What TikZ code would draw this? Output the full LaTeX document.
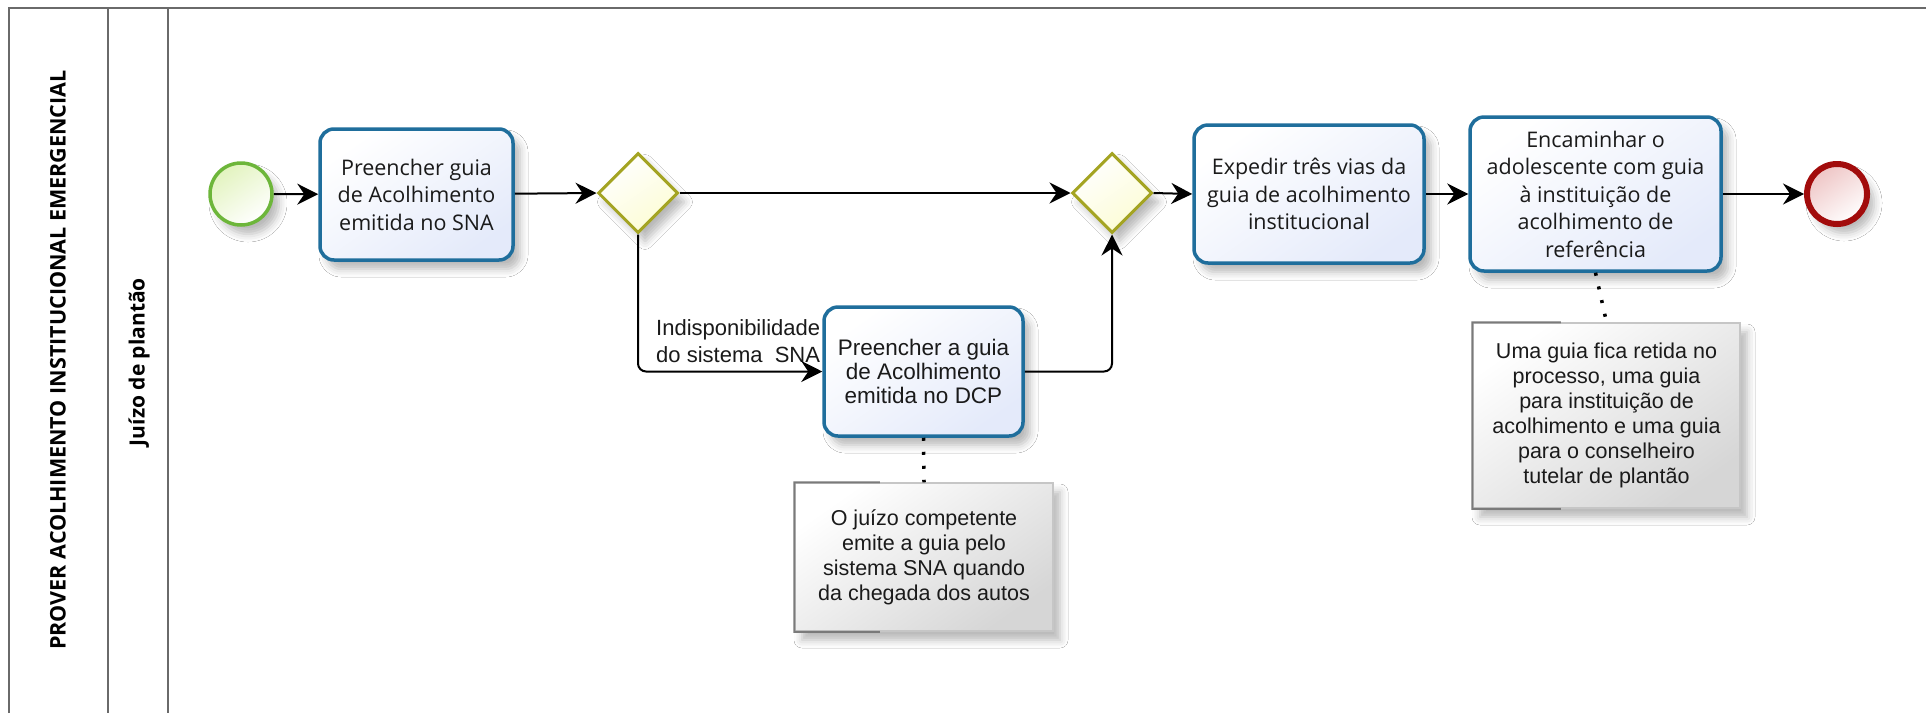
\documentclass[tikz,border=0pt]{standalone}
\usepackage{fontspec}
\setmainfont{Open Sans}
\newfontfamily\tah{Open Sans}
\newfontfamily\ari{Liberation Sans}
\usetikzlibrary{shapes.geometric,arrows.meta,shadows.blur,calc}
\definecolor{taskblue}{HTML}{1F6E9C}
\definecolor{taskfill}{HTML}{E4EAFA}
\definecolor{gwline}{HTML}{A4A422}
\definecolor{gwfill}{HTML}{FCFCD4}
\definecolor{stline}{HTML}{6DB63A}
\definecolor{stfill}{HTML}{E2F3BE}
\definecolor{enline}{HTML}{A20C0C}
\definecolor{enfill}{HTML}{EEC4C4}
\definecolor{framec}{HTML}{6A6A6A}
\definecolor{anfill}{HTML}{D6D6D6}
\definecolor{anline}{HTML}{C6C6C6}
\definecolor{anbrk}{HTML}{7A7A7A}
\definecolor{txt}{HTML}{1A1A1A}
\begin{document}
\begin{tikzpicture}[x=1pt,y=-1pt,
  shad/.style={blur shadow={shadow xshift=7pt, shadow yshift=-9pt, shadow blur radius=8pt, shadow opacity=28}},
  task/.style={shad, draw=taskblue, line width=3.5pt, rounded corners=14pt, top color=white, bottom color=taskfill, shading angle=35, align=center, inner sep=0pt, font=\tah\fontsize{21.5}{27.5}\selectfont, text=txt},
  taskari/.style={task, font=\ari\fontsize{22.5}{24}\selectfont},
  gateway/.style={shad, diamond, draw=gwline, line width=3pt, top color=white, bottom color=gwfill, shading angle=35, minimum width=80pt, minimum height=80pt, inner sep=0pt},
  startev/.style={shad, circle, draw=stline, line width=3.5pt, top color=stfill, bottom color=white, shading angle=35, minimum size=62pt, inner sep=0pt},
  endev/.style={shad, circle, draw=enline, line width=6pt, top color=enfill, bottom color=white, shading angle=35, minimum size=60pt, inner sep=0pt},
  annot/.style={shad, draw=anline, line width=1.5pt, top color=white, bottom color=anfill, shading angle=35, align=center, inner sep=0pt, font=\ari\fontsize{21.5}{25}\selectfont, text=txt},
  brk/.style={draw=anbrk, line width=2pt},
  flow/.style={draw=black, line width=2pt, -{Stealth[length=21pt, width=21pt, inset=7pt]}},
  assoc/.style={draw=black, line width=3.5pt, dash pattern=on 3pt off 11pt},
  lbl/.style={font=\ari\fontsize{22}{27}\selectfont, text=txt, inner sep=0pt, align=left},
  title/.style={rotate=90, font=\tah\bfseries\fontsize{21.5}{24}\selectfont, text=black},
  lanetitle/.style={rotate=90, font=\tah\bfseries\fontsize{21}{24}\selectfont, text=black},
  framel/.style={draw=framec, line width=2pt}
]
\useasboundingbox (0,0) rectangle (1926,713);
\fill[white] (0,0) rectangle (1926,713);

% pool and lane frame
\draw[framel] (9,713) -- (9,8) -- (1926,8);
\draw[framel] (108,8) -- (108,713);
\draw[framel] (168,8) -- (168,713);
\node[title] (pool) at (58,360) {PROVER ACOLHIMENTO INSTITUCIONAL EMERGENCIAL};
\node[lanetitle] (lane) at (139,362) {Juízo de plantão};

% edge label (behind the task)
\node[lbl, anchor=west] (lab) at (656,341) {Indisponibilidade\\do sistema\ \ SNA};

% nodes
\node[startev] (start) at (241,194) {};
\node[task, minimum width=193pt, minimum height=131pt] (t1) at (416.5,194.5) {Preencher guia\\de Acolhimento\\emitida no SNA};
\node[gateway] (g1) at (638,193) {};
\node[gateway] (g2) at (1112,193) {};
\node[taskari, minimum width=199pt, minimum height=129pt] (dcp) at (923.5,371.5) {Preencher a guia\\de Acolhimento\\emitida no DCP};
\node[task, minimum width=230pt, minimum height=138pt] (t2) at (1309,194) {Expedir três vias da\\guia de acolhimento\\institucional};
\node[task, minimum width=251pt, minimum height=154pt] (t3) at (1595.5,194) {Encaminhar o\\adolescente com guia\\à instituição de\\acolhimento de\\referência};
\node[endev] (end) at (1837,194) {};

\node[annot, minimum width=258pt, minimum height=148pt] (n1) at (924,557) {O juízo competente\\emite a guia pelo\\sistema SNA quando\\da chegada dos autos};
\node[annot, minimum width=267pt, minimum height=185pt] (n2) at (1606.5,415.5) {Uma guia fica retida no\\processo, uma guia\\para instituição de\\acolhimento e uma guia\\para o conselheiro\\tutelar de plantão};

% annotation brackets
\draw[brk] ($(n1.north west)!0.33!(n1.north east)$) -- (n1.north west) -- (n1.south west) -- ($(n1.south west)!0.33!(n1.south east)$);
\draw[brk] ($(n2.north west)!0.33!(n2.north east)$) -- (n2.north west) -- (n2.south west) -- ($(n2.south west)!0.33!(n2.south east)$);

% flows
\draw[flow] (start) -- (t1);
\draw[flow] (t1) -- (g1.west);
\draw[flow] (g1.east) -- (g2.west);
\draw[flow, rounded corners=8pt] (g1.south) |- (dcp.west);
\draw[flow, rounded corners=8pt] (dcp.east) -| (g2.south);
\draw[flow] (g2.east) -- (t2.west);
\draw[flow] (t2) -- (t3);
\draw[flow] (t3) -- (end);

% associations
\draw[assoc] (dcp.south) -- (n1.north);
\draw[assoc] (t3.south) -- (n2.north);
\end{tikzpicture}
\end{document}
